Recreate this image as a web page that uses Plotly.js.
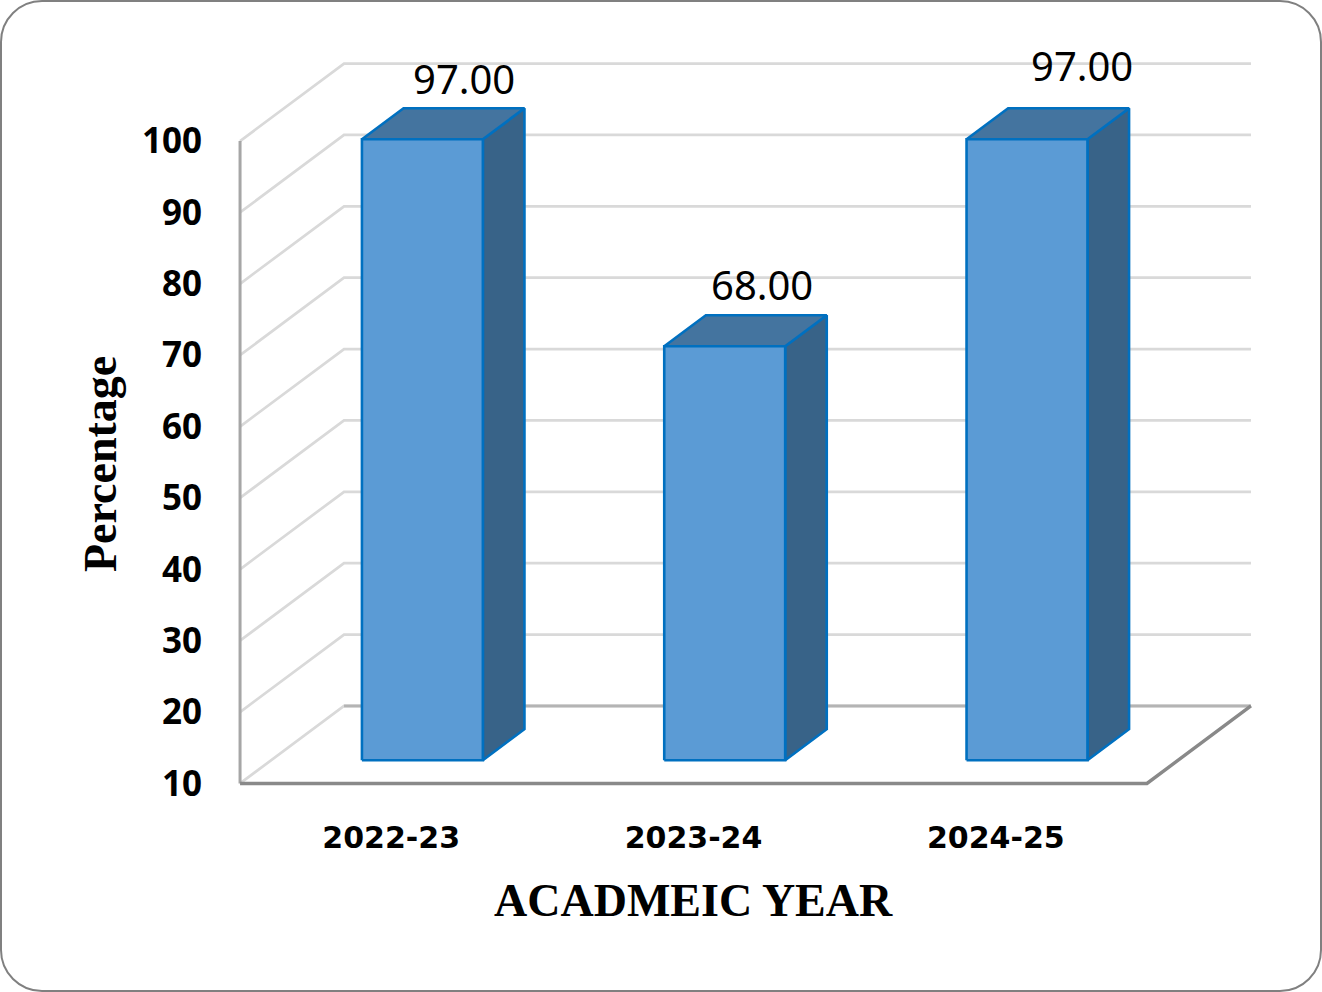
<!DOCTYPE html>
<html>
<head>
<meta charset="utf-8">
<script src="https://cdn.plot.ly/plotly-3.0.1.min.js"></script>
<style>
  html, body { margin: 0; padding: 0; background: #ffffff; }
  #frame { position: absolute; left: 0; top: 0; width: 1322px; height: 992px;
           box-sizing: border-box; border: 2.5px solid #808080; border-radius: 42px; }
  #chart { position: absolute; left: 0; top: 0; width: 1322px; height: 992px; }
</style>
</head>
<body>
<div id="frame"></div>
<div id="chart"></div>
<script>
// ---- data ----
const categories = ['2022-23', '2023-24', '2024-25'];
const values = [97.00, 68.00, 97.00];
const yTickVals = [10, 20, 30, 40, 50, 60, 70, 80, 90, 100];
const valueLabels = ['97.00', '68.00', '97.00'];

// ---- 3D look (style / geometry constants) ----
const DX = 0.344;   // full depth offset, in x-axis units
const DY = 10.86;   // full depth offset, in y-axis units
const D0 = 0.3, D1 = 0.7;      // bar depth span (fraction of full depth)
const B0 = 0.3, B1 = 0.7;      // bar width span within a category
const labelShiftX = [0, -4, 13];
const labelShiftY = [30, 31, 43];

const n = categories.length;
const yMin = yTickVals[0];

// pixel calibration of the plot area
const W = 1322, H = 992;
const pxPerX = 302.2, x0px = 240;
const pxPerY = 7.14, y0px = 783.5;  // pixel of y = yMin
const xr = [-0.02, n + DX + 0.02];
const yr = [yMin - 0.5, 111.5];
const plotL = x0px + xr[0] * pxPerX;
const plotR = x0px + xr[1] * pxPerX;
const plotB = y0px + (yMin - yr[0]) * pxPerY;
const plotT = y0px - (yr[1] - yMin) * pxPerY;

const traces = [];
function line(xs, ys, color, width) {
  traces.push({type: 'scatter', mode: 'lines', x: xs, y: ys, hoverinfo: 'skip',
    line: {color: color, width: width}, showlegend: false});
}
function poly(xs, ys, fill) {
  traces.push({type: 'scatter', mode: 'lines', x: xs, y: ys, fill: 'toself',
    fillcolor: fill, hoverinfo: 'skip', line: {color: '#0070c0', width: 2.6, shape: 'linear'},
    showlegend: false});
}

// side wall diagonals + back wall gridlines
(function () {
  const gx = [], gy = [];
  yTickVals.forEach(v => {
    gx.push(0, DX, n + DX, null);
    gy.push(v, v + DY, v + DY, null);
  });
  line(gx, gy, '#d9d9d9', 2.7);
})();
// back edge of floor
line([DX, n + DX], [yMin + DY, yMin + DY], '#b4b4b4', 3);
// vertical axis line
line([0, 0], [yMin, yTickVals[yTickVals.length - 1]], '#a6a6a6', 3);
// floor front and right edges
line([0, n, n + DX], [yMin, yMin, yMin + DY], '#898989', 3.4);

// bars
values.forEach((v, i) => {
  const xl = i + B0 + D0 * DX, xrr = i + B1 + D0 * DX;
  const dxd = (D1 - D0) * DX, dyd = (D1 - D0) * DY;
  const yb = yMin + D0 * DY, yt = v + D0 * DY;
  // side
  poly([xrr, xrr + dxd, xrr + dxd, xrr, xrr], [yb, yb + dyd, yt + dyd, yt, yb], '#386388');
  // top
  poly([xl, xrr, xrr + dxd, xl + dxd, xl], [yt, yt, yt + dyd, yt + dyd, yt], '#44749f');
  // front
  poly([xl, xrr, xrr, xl, xl], [yb, yb, yt, yt, yb], '#5b9bd5');
});

const annotations = values.map((v, i) => ({
  xref: 'x', yref: 'y', x: i + 0.5 + D1 * DX, y: v + D1 * DY,
  text: valueLabels[i], showarrow: false, xanchor: 'center', yanchor: 'middle',
  xshift: labelShiftX[i], yshift: labelShiftY[i],
  font: {family: 'Noto Sans', size: 40, color: '#000000'}
}));
const plotW = plotR - plotL, plotH = plotB - plotT;
annotations.push({
  xref: 'x', yref: 'paper', x: n / 2, y: (plotB - 901) / plotH,
  text: '<b>ACADMEIC YEAR</b>', showarrow: false, xanchor: 'center', yanchor: 'middle',
  font: {family: 'Liberation Serif', size: 46, color: '#000000'}
});
annotations.push({
  xref: 'paper', yref: 'paper', x: (100 - plotL) / plotW, y: (plotB - 464) / plotH,
  text: '<b>Percentage</b>', showarrow: false, textangle: -90,
  xanchor: 'center', yanchor: 'middle',
  font: {family: 'Liberation Serif', size: 46, color: '#000000'}
});

const layout = {
  width: W, height: H,
  margin: {l: plotL, r: W - plotR, t: plotT, b: H - plotB, pad: 0},
  paper_bgcolor: 'rgba(0,0,0,0)', plot_bgcolor: 'rgba(0,0,0,0)',
  showlegend: false,
  xaxis: {
    type: 'linear', range: xr, showgrid: false, zeroline: false, showline: false,
    tickmode: 'array', tickvals: categories.map((c, i) => i + 0.5), ticktext: categories,
    ticks: 'outside', ticklen: 24, tickcolor: 'rgba(0,0,0,0)',
    tickfont: {family: 'DejaVu Sans', size: 30, color: '#000000', weight: 'bold'},
    fixedrange: true
  },
  yaxis: {
    type: 'linear', range: yr, showgrid: false, zeroline: false, showline: false,
    tickmode: 'array', tickvals: yTickVals, ticktext: yTickVals.map(String),
    ticks: 'outside', ticklen: 24, tickcolor: 'rgba(0,0,0,0)',
    tickfont: {family: 'Noto Sans', size: 35, color: '#000000', weight: 'bold'},
    fixedrange: true
  },
  annotations: annotations
};

Plotly.newPlot('chart', traces, layout, {displayModeBar: false, staticPlot: true});
</script>
</body>
</html>
